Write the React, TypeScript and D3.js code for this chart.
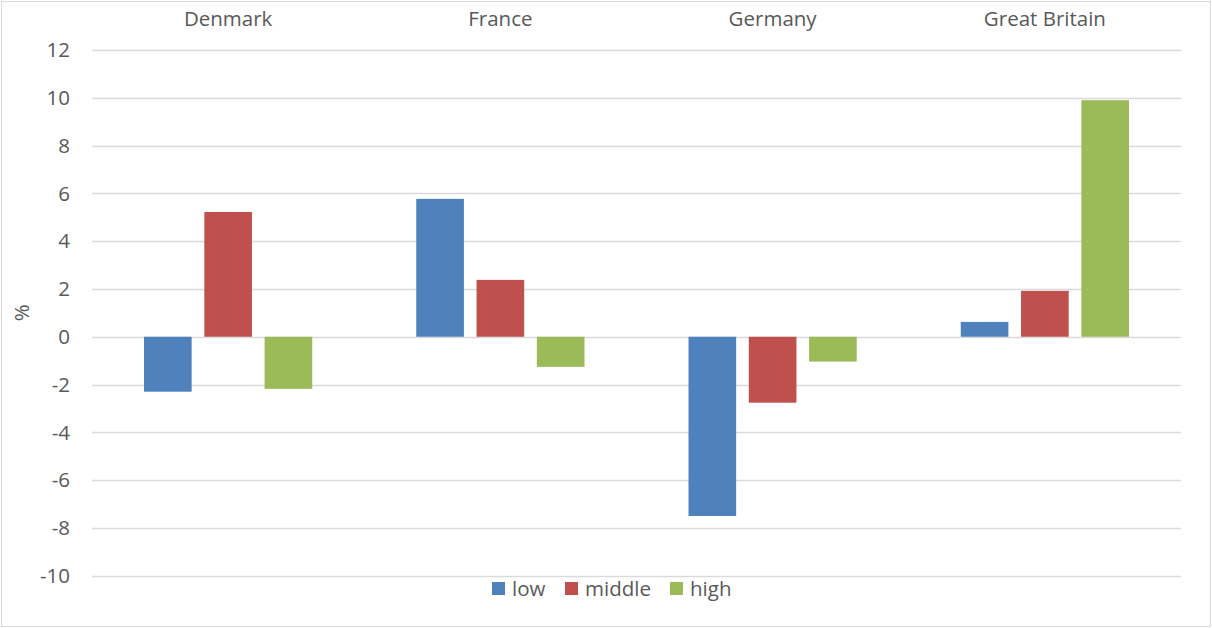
import { useEffect, useRef } from 'react';
import * as d3 from 'd3';

const countries = ['Denmark', 'France', 'Germany', 'Great Britain'];
const seriesNames = ['low', 'middle', 'high'];
const lowValues = [-2.3, 5.77, -7.5, 0.62];
const middleValues = [5.22, 2.38, -2.76, 1.92];
const highValues = [-2.18, -1.26, -1.04, 9.9];
const yTicks = [12, 10, 8, 6, 4, 2, 0, -2, -4, -6, -8, -10];
const colors = ['#4F81BD', '#C0504D', '#9BBB59'];

const W = 1212;
const H = 628;

const App = () => {
  const svgRef = useRef<SVGSVGElement>(null);

  useEffect(() => {
    if (!svgRef.current) return;
    const svg = d3.select(svgRef.current);
    svg.selectAll('*').remove();

    const font = '"Open Sans", Lato, sans-serif';
    const fontSize = 20.5;
    const textColor = '#595959';
    const margin = { top: 50, right: 31, bottom: 52, left: 92 };
    const innerRight = W - margin.right;
    const innerBottom = H - margin.bottom;

    // Chart border
    svg.append('rect')
      .attr('x', 1.5).attr('y', 1.5)
      .attr('width', W - 3).attr('height', H - 3)
      .attr('fill', '#fff')
      .attr('stroke', '#d9d9d9')
      .attr('stroke-width', 1);

    const x0 = d3.scaleBand<string>()
      .domain(countries)
      .range([margin.left, innerRight]);

    const x1 = d3.scaleBand<string>()
      .domain(seriesNames)
      .range([0, x0.bandwidth()])
      .paddingInner(0.21)
      .paddingOuter(0.8625);

    const y = d3.scaleLinear()
      .domain([-10, 12])
      .range([innerBottom - 0.3, margin.top]);

    // Gridlines
    svg.append('g')
      .selectAll('line')
      .data(yTicks)
      .enter()
      .append('line')
      .attr('x1', margin.left)
      .attr('x2', innerRight)
      .attr('y1', d => Math.round(y(d)) + 0.5)
      .attr('y2', d => Math.round(y(d)) + 0.5)
      .attr('stroke', '#d9d9d9')
      .attr('stroke-width', 1.3);

    // Y tick labels
    svg.append('g')
      .selectAll('text')
      .data(yTicks)
      .enter()
      .append('text')
      .attr('x', 70)
      .attr('y', d => y(d))
      .attr('dy', '0.35em')
      .attr('text-anchor', 'end')
      .attr('font-family', font)
      .attr('font-size', fontSize)
      .attr('fill', textColor)
      .text(d => `${d}`);

    // Y axis title
    svg.append('text')
      .attr('transform', `translate(29,${y(1)}) rotate(-90)`)
      .attr('text-anchor', 'middle')
      .attr('font-family', font)
      .attr('font-size', fontSize)
      .attr('fill', textColor)
      .text('%');

    // Category labels at top
    svg.append('g')
      .selectAll('text')
      .data(countries)
      .enter()
      .append('text')
      .attr('x', d => (x0(d) ?? 0) + x0.bandwidth() / 2)
      .attr('y', 26)
      .attr('text-anchor', 'middle')
      .attr('font-family', font)
      .attr('font-size', fontSize)
      .attr('fill', textColor)
      .text(d => d);

    // Bars
    const seriesValues = [lowValues, middleValues, highValues];
    seriesNames.forEach((name, si) => {
      svg.append('g')
        .selectAll('rect')
        .data(seriesValues[si])
        .enter()
        .append('rect')
        .attr('x', (_, i) => (x0(countries[i]) ?? 0) + (x1(name) ?? 0))
        .attr('y', d => y(Math.max(0, d)))
        .attr('width', x1.bandwidth())
        .attr('height', d => Math.abs(y(d) - y(0)))
        .attr('fill', colors[si]);
    });

    // Legend
    const legendItems = [
      { name: 'low', x: 492 },
      { name: 'middle', x: 565 },
      { name: 'high', x: 670 }
    ];
    const legend = svg.append('g');
    legendItems.forEach((item, i) => {
      legend.append('rect')
        .attr('x', item.x)
        .attr('y', 582)
        .attr('width', 13)
        .attr('height', 13)
        .attr('fill', colors[i]);
      legend.append('text')
        .attr('x', item.x + 20)
        .attr('y', 589)
        .attr('dy', '0.35em')
        .attr('font-family', font)
        .attr('font-size', fontSize)
        .attr('fill', textColor)
        .text(item.name);
    });
  }, []);

  return (
    <svg
      ref={svgRef}
      width={W}
      height={H}
      style={{ position: 'absolute', left: 0, top: 0 }}
    />
  );
};

export default App;
